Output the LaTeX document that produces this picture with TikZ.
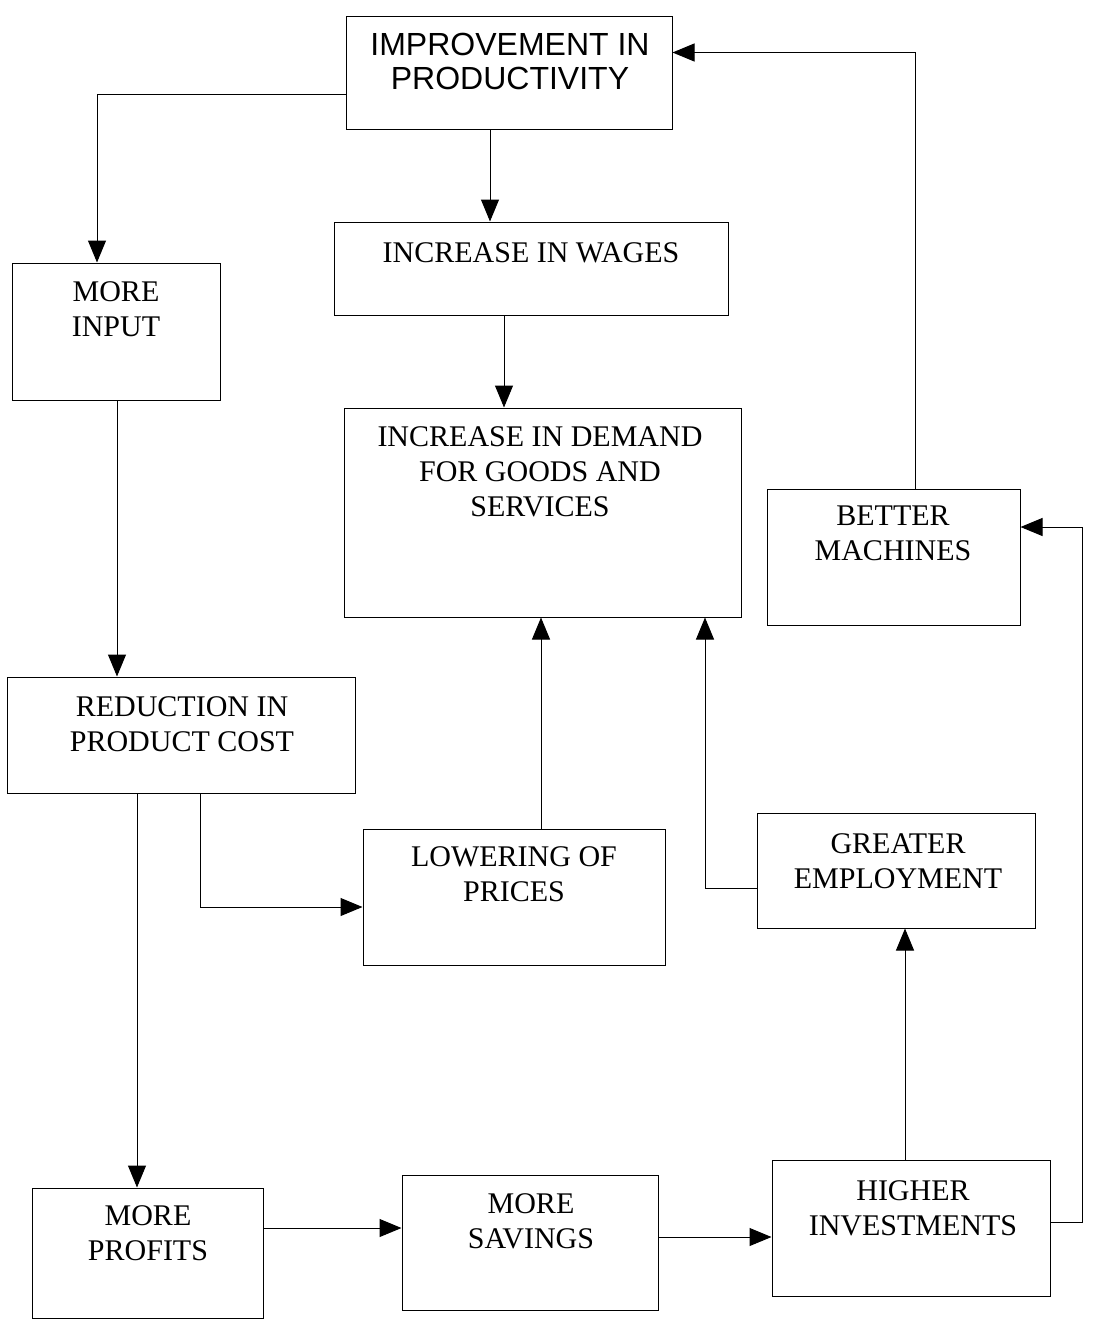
\documentclass[tikz,border=0pt]{standalone}
\usepackage{fontspec}
\setmainfont{Liberation Serif}
\newfontfamily\arialfont{Liberation Sans}
\usetikzlibrary{arrows.meta}
\begin{document}
\begin{tikzpicture}[x=1pt,y=-1pt,
  box/.style={draw, line width=1pt, inner sep=0pt},
  lbl/.style={font=\fontsize{30}{35}\selectfont, align=center, inner sep=0pt, anchor=north},
  arr/.style={line width=1pt, -{Triangle[length=22pt,width=18pt]}}]
\useasboundingbox[fill=white] (0,0) rectangle (1095,1328);

% boxes
\node[box, minimum width=326pt, minimum height=113pt] (imp) at (509,72.5) {};
\node[box, minimum width=394pt, minimum height=93pt]  (wag) at (531,268.5) {};
\node[box, minimum width=208pt, minimum height=137pt] (inp) at (116,331.5) {};
\node[box, minimum width=397pt, minimum height=209pt] (dem) at (542.5,512.5) {};
\node[box, minimum width=253pt, minimum height=136pt] (mac) at (893.5,557) {};
\node[box, minimum width=348pt, minimum height=116pt] (red) at (181,735) {};
\node[box, minimum width=302pt, minimum height=136pt] (low) at (514,897) {};
\node[box, minimum width=278pt, minimum height=115pt] (emp) at (896,870.5) {};
\node[box, minimum width=231pt, minimum height=130pt] (pro) at (147.5,1253) {};
\node[box, minimum width=256pt, minimum height=135pt] (sav) at (530,1242.5) {};
\node[box, minimum width=278pt, minimum height=136pt] (inv) at (911,1228) {};

% labels
\node[lbl, font=\arialfont\fontsize{32}{34}\selectfont] (impT) at (510,33) {IMPROVEMENT IN\\PRODUCTIVITY};
\node[lbl] (wagT) at (531,242) {INCREASE IN WAGES};
\node[lbl] (inpT) at (116,281) {MORE\\INPUT};
\node[lbl] (demT) at (540,426) {INCREASE IN DEMAND\\FOR GOODS AND\\SERVICES};
\node[lbl] (macT) at (893,506) {BETTER\\MACHINES};
\node[lbl] (redT) at (182,696) {REDUCTION IN\\PRODUCT COST};
\node[lbl] (lowT) at (514,846) {LOWERING OF\\PRICES};
\node[lbl] (empT) at (898,833) {GREATER\\EMPLOYMENT};
\node[lbl] (proT) at (148,1205) {MORE\\PROFITS};
\node[lbl] (savT) at (531,1193) {MORE\\SAVINGS};
\node[lbl] (invT) at (913,1180) {HIGHER\\INVESTMENTS};

% connectors
\draw[arr] ([yshift=-22pt]imp.west) -| ([xshift=-19pt]inp.north);
\draw[arr] ([xshift=-19pt]imp.south) -- ([xshift=-19pt]imp.south |- wag.north);
\draw[arr] ([xshift=-27pt]wag.south) -- ([xshift=-27pt]wag.south |- dem.north);
\draw[arr] ([xshift=1pt]inp.south) -- ([xshift=1pt]inp.south |- red.north);
\draw[arr] ([xshift=-44pt]red.south) -- ([xshift=-44pt]red.south |- pro.north);
\draw[arr] ([xshift=19pt]red.south) |- ([yshift=-10pt]low.west);
\draw[arr] ([xshift=27pt]low.north) -- ([xshift=27pt]low.north |- dem.south);
\draw[arr] ([yshift=-17.5pt]emp.west) -| ([xshift=162.5pt]dem.south);
\draw[arr] ([xshift=-6pt]inv.north) -- ([xshift=-6pt]inv.north |- emp.south);
\draw[arr] ([yshift=25pt]pro.east) -- ([yshift=25pt]pro.east -| sav.west);
\draw[arr] ([yshift=5.5pt]sav.east) -- ([yshift=5.5pt]sav.east -| inv.west);
\draw[arr] ([yshift=6pt]inv.east) -- ++(32,0) |- ([yshift=30pt]mac.east);
\draw[arr] ([xshift=21.5pt]mac.north) |- ([yshift=20pt]imp.east);
\end{tikzpicture}
\end{document}
